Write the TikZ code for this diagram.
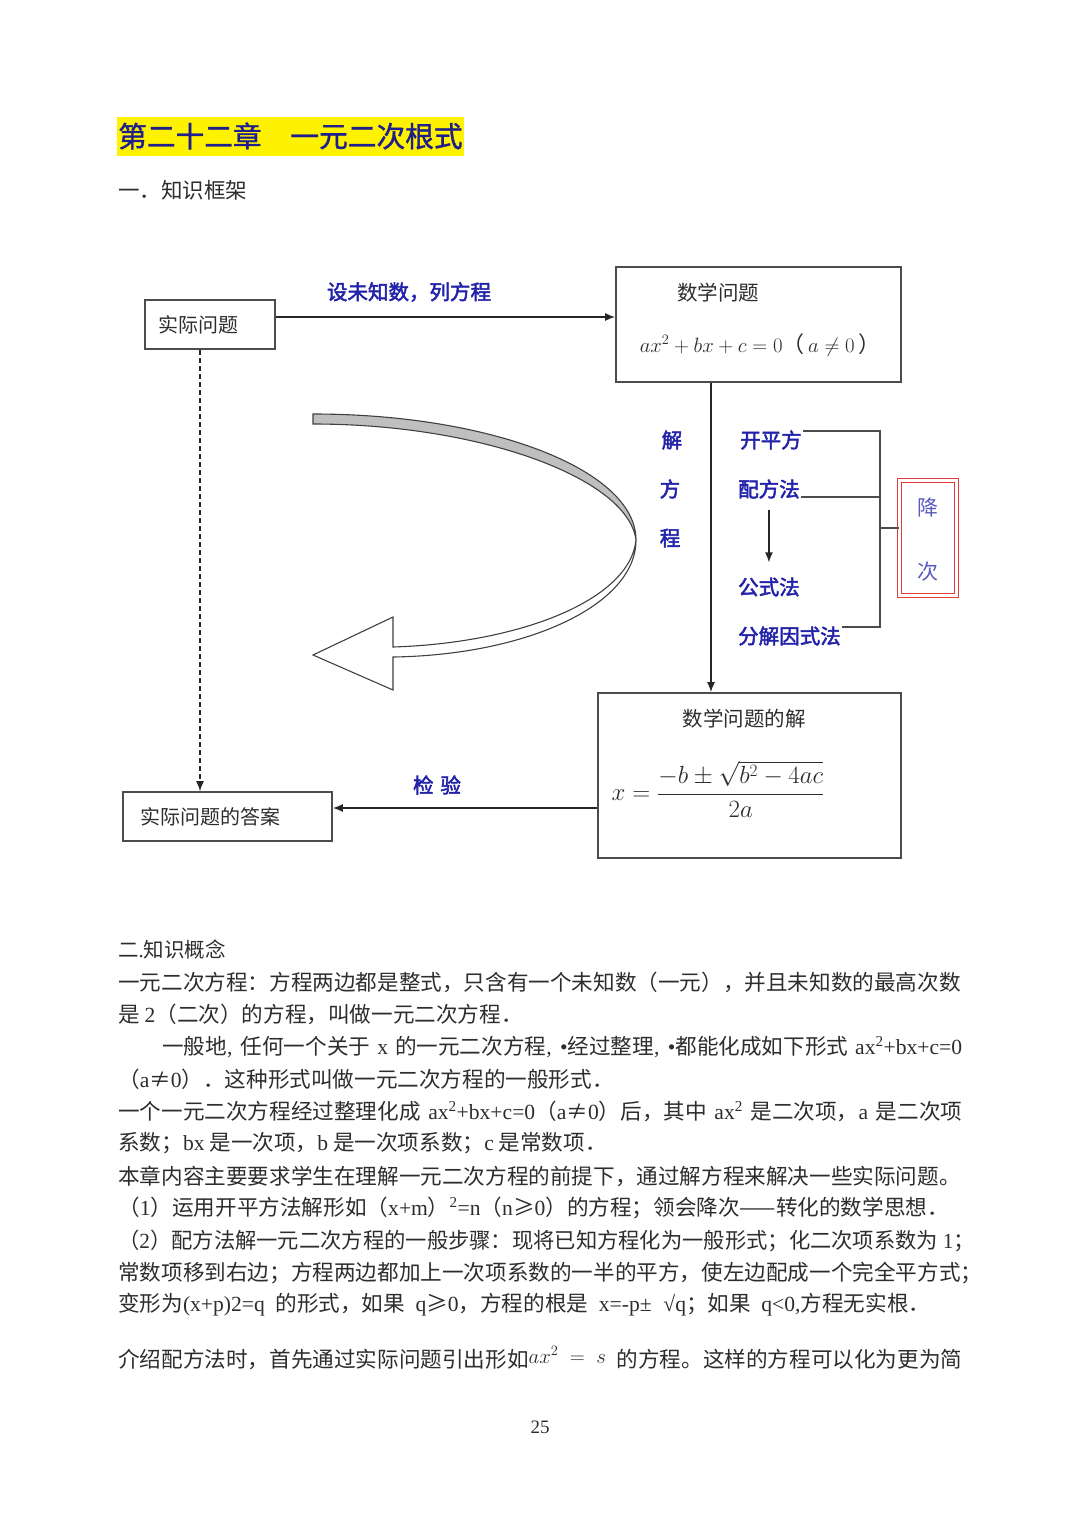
\documentclass[tikz,border=0pt]{standalone}
\usepackage{amsmath,amssymb}
\usepackage{fontspec}
\setmainfont{Liberation Serif}
\newfontfamily\cjk{Noto Sans CJK SC}
\newfontfamily\cjkm[FakeBold=1.2]{Noto Sans CJK SC}
\newfontfamily\cjkb[FakeBold=2.5]{Noto Sans CJK SC}
\usepackage{tikz}
\usetikzlibrary{positioning,arrows.meta,calc}
\usepackage{xcolor}
\definecolor{titleblue}{RGB}{30,30,140}
\definecolor{lblblue}{RGB}{35,35,170}
\definecolor{boxred}{RGB}{225,60,60}
\definecolor{ink}{RGB}{45,45,45}
\newcommand{\lat}[1]{{\rmfamily #1}}
\newcommand{\sq}{\textsuperscript{2}}

\begin{document}
\begin{tikzpicture}[x=1pt,y=-1pt,
  box/.style={draw=black!70, line width=1.6pt, inner ysep=0pt, text=ink, align=left,
    font=\cjk\fontsize{20}{24}\selectfont},
  boxtext/.style={inner sep=0pt, text=ink, font=\cjk\fontsize{20.5}{24}\selectfont},
  lbl/.style={font=\cjkb\fontsize{20.5}{24}\selectfont, text=lblblue, inner sep=1pt},
  conn/.style={line width=1.6pt, draw=black!85},
  brack/.style={line width=1.3pt, draw=black!70},
  tip/.style={-{Latex[length=10pt,width=8pt]}},
  body/.style={anchor=west, inner sep=0pt, text=ink, font=\cjk\fontsize{21.6}{26}\selectfont}]
  \useasboundingbox (0,0) rectangle (1080,1526);

  % heading
  \node[fill=yellow, inner xsep=1pt, inner ysep=0pt, minimum height=39pt, anchor=west,
    text=titleblue, font=\cjkm\fontsize{28.7}{32}\selectfont] (title) at (117,136) {第二十二章　一元二次根式};
  \node[body, font=\cjk\fontsize{21.5}{26}\selectfont] (sec1) at (118,190) {一．知识框架};

  % boxes
  \node[box, inner xsep=13pt, text width=104pt, minimum height=49pt] (q1) at (210,324.5) {实际问题};
  \node[box, minimum width=285pt, minimum height=115pt] (q2) at (758.5,324.5) {};
  \node[boxtext] (q2t) at (718,293) {数学问题};
  \node[inner sep=0pt, text=ink, font=\fontsize{22}{26}\selectfont] (q2f) at (760,345)
    {$ax^{2}+bx+c=0${\cjk（}$\,a\neq 0\,${\cjk）}};
  \node[box, minimum width=303pt, minimum height=165pt] (sol) at (749.5,775.5) {};
  \node[boxtext] (solt) at (744,719) {数学问题的解};
  \node[inner sep=0pt, text=ink, font=\fontsize{23}{27}\selectfont] (solf) at (718,789)
    {$x=\dfrac{-b\pm\sqrt{b^{2}-4ac}}{2a}$};
  \node[box, inner xsep=17pt, text width=175pt, minimum height=49pt] (ans) at (227.5,816.5) {实际问题的答案};

  % main connectors
  \draw[conn,tip] ([yshift=7.5pt]q1.east) -- ([yshift=7.5pt]q1.east -| q2.west);
  \node[lbl] (setup) at (409,292) {设未知数，列方程};
  \draw[conn,tip] ([xshift=-47.5pt]q2.south) -- ([xshift=-47.5pt]q2.south |- sol.north);
  \draw[conn,tip] ([yshift=8.5pt]ans.east -| sol.west) -- ([yshift=8.5pt]ans.east);
  \node[lbl] (check) at (437,785) {检\,\,验};
  \draw[conn,line width=1.3pt,dash pattern=on 5pt off 3pt,tip]
    ([xshift=-10pt]q1.south) -- ([xshift=-10pt]q1.south |- ans.north);

  % solving methods
  \node[lbl] (j1) at (672,440) {解};
  \node[lbl] (j2) at (670,489) {方};
  \node[lbl] (j3) at (670,538) {程};
  \node[lbl, anchor=west] (m1) at (739,440) {开平方};
  \node[lbl, anchor=west] (m2) at (737,489) {配方法};
  \node[lbl, anchor=west] (m3) at (737,587) {公式法};
  \node[lbl, anchor=west] (m4) at (737,636) {分解因式法};
  \draw[conn,line width=1.4pt,tip,shorten <=10pt,shorten >=14pt] (m2.south) -- (m3.north);

  \node[draw=boxred, line width=1.4pt, double=white, double distance=2.5pt,
    minimum width=56.7pt, minimum height=114.7pt, inner sep=0pt] (jc) at (928,538) {};
  \node[inner sep=0pt, text=lblblue!75, font=\cjk\fontsize{21}{24}\selectfont] (jiang) at (928,508) {降};
  \node[inner sep=0pt, text=lblblue!75, font=\cjk\fontsize{21}{24}\selectfont] (ci) at (928,572) {次};

  \coordinate (brk) at (880,528);
  \draw[brack] ([yshift=9pt]m1.east) -| (brk);
  \draw[brack] ([yshift=-8pt]m2.east) -- ([yshift=-8pt]m2.east -| brk);
  \draw[brack] ([yshift=9pt]m4.east) -| (brk);
  \draw[brack] (brk) -- (brk -| jc.west);

  % big turning arrow
  \draw[line width=1.1pt, draw=black!75, fill=white]
    (636,540) .. controls (636,605) and (527,655) .. (393,657) -- (393,690) -- (313,655)
    -- (393,617) -- (393,647) .. controls (520,643) and (630,600) .. (636,540) -- cycle;
  \draw[line width=1.1pt, draw=black!75, fill=black!25]
    (313,414) .. controls (491,414) and (636,470) .. (636,540)
    .. controls (628,478) and (480,424) .. (313,424) -- cycle;

  % text below
  \node[body, font=\cjk\fontsize{20.5}{26}\selectfont] (l0) at (118,950) {二\lat{.}知识概念};
  \node[body] (l1) at (118,982) {一元二次方程：方程两边都是整式，只含有一个未知数（一元），并且未知数的最高次数};
  \node[body] (l2) at (118,1014) {是 \lat{2}（二次）的方程，叫做一元二次方程．};
  \node[body] (l3) at (162,1047) {\makebox[800pt][s]{一般地\lat{, }任何一个关于 \lat{x} 的一元二次方程\lat{, •}经过整理\lat{, •}都能化成如下形式 \lat{ax\sq+bx+c=0}}};
  \node[body] (l4) at (118,1079) {（\lat{a}≠\lat{0}）．这种形式叫做一元二次方程的一般形式．};
  \node[body] (l5) at (118,1111) {\makebox[844pt][s]{一个一元二次方程经过整理化成 \lat{ax\sq+bx+c=0}（\lat{a}≠\lat{0}）后，其中 \lat{ax\sq} 是二次项，\lat{a} 是二次项}};
  \node[body] (l6) at (118,1143) {系数；\lat{bx} 是一次项，\lat{b} 是一次项系数；\lat{c} 是常数项．};
  \node[body] (l7) at (118,1176) {本章内容主要要求学生在理解一元二次方程的前提下，通过解方程来解决一些实际问题。};
  \node[body] (l8) at (118,1208) {（\lat{1}）运用开平方法解形如（\lat{x+m}）\lat{\sq=n}（\lat{n}≥\lat{0}）的方程；领会降次——转化的数学思想．};
  \node[body] (l9) at (118,1241) {\scalebox{0.986}[1]{（\lat{2}）配方法解一元二次方程的一般步骤：现将已知方程化为一般形式；化二次项系数为 \lat{1}；}};
  \node[body] (l10) at (118,1273) {常数项移到右边；方程两边都加上一次项系数的一半的平方，使左边配成一个完全平方式；};
  \node[body] (l11) at (118,1305) {\makebox[812pt][s]{变形为\lat{(x+p)2=q} 的形式，如果 \lat{q}≥\lat{0}，方程的根是 \lat{x=-p± √q}；如果 \lat{q<0,}方程无实根．}};
  \node[body] (l12) at (118,1358) {\makebox[844pt][s]{介绍配方法时，首先通过实际问题引出形如\raisebox{4pt}{\fontsize{22}{26}\selectfont$ax^{2}\;=\;s$} 的方程。这样的方程可以化为更为简}};
  \node[inner sep=0pt, text=ink, font=\fontsize{19}{22}\selectfont] (pg) at (540,1427) {25};
\end{tikzpicture}
\end{document}
